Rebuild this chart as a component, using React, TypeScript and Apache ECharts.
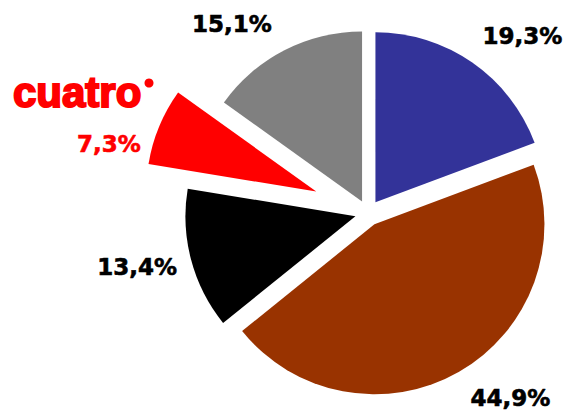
import React, { useEffect, useRef } from "react";
import * as echarts from "echarts";

const categories = ["Azul", "Marrón", "Negro", "Cuatro", "Gris"];
const shares = [19.3, 44.9, 13.4, 7.3, 15.1];
const colors = ["#333399", "#993300", "#000000", "#ff0000", "#808080"];
const labelColors = ["#000000", "#000000", "#000000", "#ff0000", "#000000"];
const labelLen = [32, 30, 27, -46, 30];
const labelLen2 = [-13, -8, -17, 56, -6];
const explodedIndex = 3;
const logoText = "cuatro";

const fmt = (v: number) => v.toFixed(1).replace(".", ",") + "%";

export default function App() {
  const ref = useRef<HTMLDivElement>(null);
  useEffect(() => {
    if (!ref.current) return;
    const chart = echarts.init(ref.current, undefined, { renderer: "svg" });
    const center = [368, 213];
    const radius = 170;
    const labelBase = {
      position: "outside",
      fontFamily: "DejaVu Sans",
      fontWeight: "bold",
      fontSize: 23,
      textBorderColor: "inherit",
    };
    const mkData = (showIdx: (i: number) => boolean, selIdx: (i: number) => boolean) =>
      categories.map((name, i) => ({
        name,
        value: shares[i],
        selected: selIdx(i),
        itemStyle: showIdx(i) ? { color: colors[i] } : { color: "rgba(0,0,0,0)" },
        label: showIdx(i)
          ? {
              ...labelBase,
              show: true,
              color: labelColors[i],
              textBorderColor: labelColors[i],
              textBorderWidth: 0.6,
              formatter: () => fmt(shares[i]),
            }
          : { show: false },
        labelLine: { show: false, length: labelLen[i], length2: labelLen2[i] },
      }));
    chart.setOption({
      animation: false,
      series: [
        {
          type: "pie",
          center,
          radius,
          startAngle: 90,
          clockwise: true,
          avoidLabelOverlap: false,
          selectedMode: "multiple",
          selectedOffset: 13,
          silent: true,
          labelLine: { show: false },
          data: mkData((i) => i !== explodedIndex, (i) => i !== explodedIndex),
        },
        {
          type: "pie",
          center,
          radius,
          startAngle: 90,
          clockwise: true,
          avoidLabelOverlap: false,
          selectedMode: "single",
          selectedOffset: 56,
          silent: true,
          labelLine: { show: false },
          data: mkData((i) => i === explodedIndex, (i) => i === explodedIndex),
        },
      ],
      graphic: [
        {
          type: "text",
          left: 12,
          top: 70,
          style: {
            text: logoText,
            fill: "#ff0000",
            stroke: "#ff0000",
            lineWidth: 2,
            font: "bold 42px 'Liberation Sans'",
          },
        },
        {
          type: "circle",
          shape: { cx: 149, cy: 83, r: 4.5 },
          style: { fill: "#ff0000" },
        },
      ],
    });
    return () => chart.dispose();
  }, []);
  return (
    <div
      ref={ref}
      style={{ position: "absolute", left: 0, top: 0, width: 568, height: 412, background: "#fff" }}
    />
  );
}
